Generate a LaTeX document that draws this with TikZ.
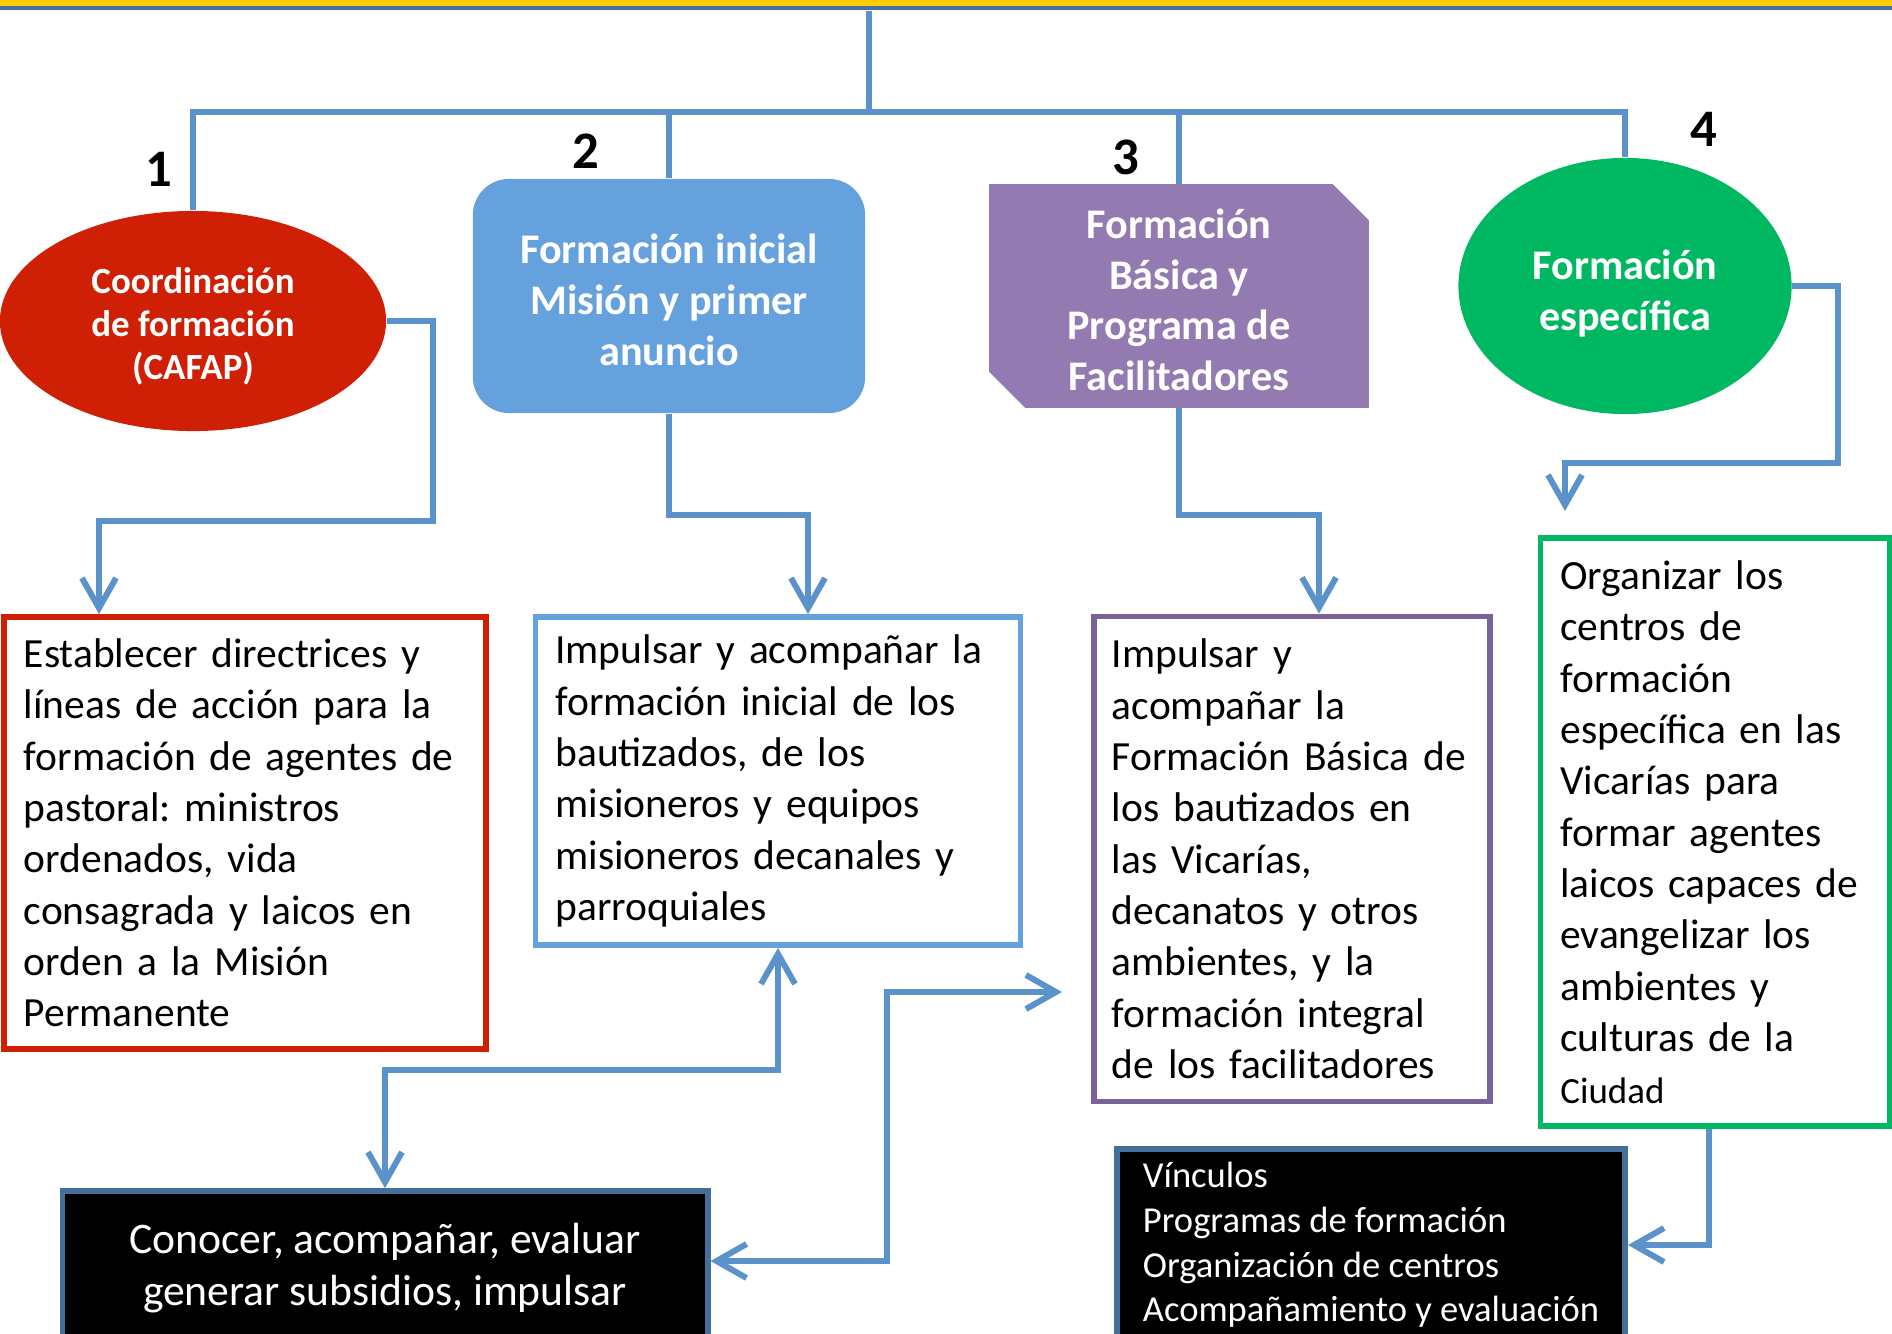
\documentclass[tikz,border=0pt]{standalone}
\usepackage{fontspec}
\setmainfont{Carlito}
\frenchspacing
\usetikzlibrary{shapes.geometric,arrows.meta,backgrounds}
\definecolor{linkblue}{RGB}{91,146,201}
\definecolor{bandyellow}{RGB}{255,204,0}
\definecolor{bandline}{RGB}{70,110,160}
\definecolor{cafapred}{RGB}{207,32,5}
\definecolor{inicialblue}{RGB}{101,161,221}
\definecolor{basicapurple}{RGB}{147,122,176}
\definecolor{facline}{RGB}{120,98,150}
\definecolor{especgreen}{RGB}{0,184,98}
\definecolor{steelline}{RGB}{68,111,154}
\newcommand\bodyfont{\fontsize{11.8}{14.6}\selectfont}
\newcommand\lift[1]{\rule{0pt}{#1}}
\tikzset{
  link/.style={draw=linkblue, line width=1.7pt},
  num/.style={font=\fontsize{15}{18}\selectfont\bfseries},
  head/.style={text=white, align=center, inner sep=0pt, font=\fontsize{12}{14.4}\selectfont\bfseries},
  descbox/.style={draw, fill=white, line width=1.6pt, align=left, inner xsep=0.2cm, font=\bodyfont},
  darkbox/.style={draw=steelline, fill=black, text=white, line width=1.6pt}
}
\begin{document}
\begin{tikzpicture}[x=0.01cm, y=-0.01cm, >={Straight Barb[length=3mm,width=3.4mm]}]
  \useasboundingbox (0,0) rectangle (1892,1333);
  \fill[bandyellow] (0,0) rectangle (1892,6);
  \draw[bandline, line width=1.4pt] (0,8) -- (1892,8);
  \coordinate (ttop) at (869,11);
  \coordinate (bar) at (869,112);

  \node [num] (n1) at (159,169) {1};
  \node [num] (n2) at (586,151) {2};
  \node [num] (n3) at (1126,157) {3};
  \node [num] (n4) at (1704,129) {4};

  \node [head, ellipse, fill=cafapred, minimum width=3.86cm, minimum height=2.2cm, font=\fontsize{10.5}{12.2}\selectfont\bfseries] (cafap) at (193,321) {\lift{10.5pt}Coordinación\\de formación\\(CAFAP)};
  \node [head, rectangle, rounded corners=0.36cm, fill=inicialblue, minimum width=3.92cm, minimum height=2.34cm] (inicial) at (669,296) {\lift{10.6pt}Formación inicial\\Misión y primer\\anuncio};
  \node [head, rectangle, minimum width=3.78cm, minimum height=2.22cm] (basica) at (1179,296) {\lift{10.6pt}Formación\\Básica y\\Programa de\\Facilitadores};
  \begin{scope}[on background layer]
    \fill[basicapurple] (basica.north west) -- ([xshift=-0.36cm]basica.north east) -- ([yshift=-0.36cm]basica.north east) -- (basica.south east) -- ([xshift=0.36cm]basica.south west) -- ([yshift=0.36cm]basica.south west) -- cycle;
  \end{scope}
  \node [head, ellipse, fill=especgreen, minimum width=3.33cm, minimum height=2.56cm] (especif) at (1625,286) {\lift{12.6pt}Formación\\específica};

  \node [descbox, draw=cafapred, minimum width=4.82cm, minimum height=4.32cm, text width=4.42cm] (dirbox) at (245,833) {Establecer directrices y\\líneas de acción para la\\formación de agentes de\\pastoral: ministros\\ordenados, vida\\consagrada y laicos en\\orden a la Misión\\Permanente};
  \node [descbox, draw=inicialblue, minimum width=4.85cm, minimum height=3.28cm, text width=4.45cm] (misbox) at (778,781) {Impulsar y acompañar la\\formación inicial de los\\bautizados, de los\\misioneros y equipos\\misioneros decanales y\\parroquiales};
  \node [descbox, draw=facline, minimum width=3.96cm, minimum height=4.85cm, text width=3.6cm, inner xsep=0.18cm] (facbox) at (1292,859) {Impulsar y\\acompañar la\\Formación Básica de\\los bautizados en\\las Vicarías,\\decanatos y otros\\ambientes, y la\\formación integral\\de los facilitadores};
  \node [descbox, draw=especgreen, minimum width=3.49cm, minimum height=5.88cm, text width=3.09cm] (orgbox) at (1715,832) {Organizar los\\centros de\\formación\\específica en las\\Vicarías para\\formar agentes\\laicos capaces de\\evangelizar los\\ambientes y\\culturas de la\\{\fontsize{10.5}{12.6}\selectfont Ciudad}};

  \node [darkbox, align=center, minimum width=6.45cm, minimum height=1.54cm, font=\fontsize{12.4}{14.6}\selectfont] (conocer) at (385,1268) {Conocer, acompañar, evaluar\\generar subsidios, impulsar};
  \node [darkbox, align=left, minimum width=5.08cm, minimum height=1.92cm, inner xsep=0.2cm, font=\fontsize{10.4}{12.7}\selectfont] (vinc) at (1371,1245) {Vínculos\\Programas de formación\\Organización de centros\\Acompañamiento y evaluación};

  \coordinate (a1) at (99,521);
  \coordinate (a2) at (808,515);
  \coordinate (a3) at (1319,515);
  \coordinate (a4) at (1565,463);
  \coordinate (a4tip) at (1565,511);
  \coordinate (a6) at (887,992);
  \coordinate (a6tip) at (1062,992);
  \coordinate (a7) at (1709,0);

  \draw [link] (ttop) -- (bar);
  \draw [link] (bar) -| (cafap.north);
  \draw [link] (bar) -| (inicial.north);
  \draw [link] (bar) -| (basica.north);
  \draw [link] (bar) -| (especif.north);
  \draw [link, ->] (cafap.east) -- ++(46,0) |- (a1) -- (a1 |- dirbox.north);
  \draw [link, ->] (inicial.south) |- (a2) -- (a2 |- misbox.north);
  \draw [link, ->] (basica.south) |- (a3) -- (a3 |- facbox.north);
  \draw [link, ->] (especif.east) -- ++(46,0) |- (a4) -- (a4tip);
  \draw [link, <->] (misbox.south) -- ++(0,122) -| (conocer.north);
  \draw [link, <->] ([yshift=0.07cm]conocer.east) -| (a6) -- (a6tip);
  \draw [link, ->] (a7 |- orgbox.south) |- (vinc.east);
\end{tikzpicture}
\end{document}
